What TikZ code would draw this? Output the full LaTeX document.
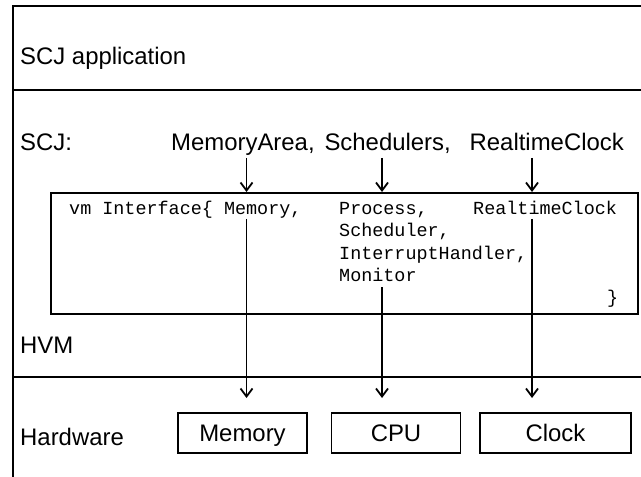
\documentclass[tikz,border=0pt]{standalone}
\usepackage{fontspec}
\setmainfont{Liberation Sans}
\newfontfamily\codefont{Liberation Mono}
\usetikzlibrary{arrows.meta}
\tikzset{
  frame/.style={line width=2.2bp},
  lbl/.style={inner sep=0pt, anchor=base west, font=\fontsize{24}{28}\selectfont},
  code/.style={inner sep=0pt, anchor=base west, font=\codefont\fontsize{18.5}{21}\selectfont},
  hwbox/.style={draw, line width=1.8bp, minimum width=129bp, minimum height=40bp, inner sep=0pt,
    text height=17bp, text depth=0pt, font=\fontsize{24}{28}\selectfont},
  vmbox/.style={draw, line width=2bp},
  arr/.style={line width=1.8bp, -{Straight Barb[length=8bp,width=12bp,line width=1.8bp]}},
}
\begin{document}
\begin{tikzpicture}[x=1bp,y=-1bp]
\useasboundingbox (0,0) rectangle (641,477);
% frame lines
\draw[frame] (13,477) -- (13,6) -- (641,6);
\draw[frame] (13,90) -- (641,90);
\draw[frame] (13,377) -- (641,377);
% layer labels
\node[lbl] (app) at (20,65) {SCJ application};
\node[lbl] (scj) at (20,151) {SCJ:};
\node[lbl] (hvm) at (20,353) {HVM};
\node[lbl] (hw) at (20,445) {Hardware};
% SCJ items
\node[lbl] (ma) at (171,151) {MemoryArea,};
\node[lbl, anchor=base east] (sch) at (451,151) {Schedulers,};
\node[lbl, anchor=base east] (rtc) at (624,151) {RealtimeClock};
% vm interface box
\node[vmbox, minimum width=587bp, minimum height=121bp, anchor=north west, inner sep=0pt] (vm) at (50,192) {};
\node[code] (vmi) at (69,215) {vm Interface\{ Memory,};
\node[code] (p1) at (339,215) {Process,};
\node[code] (p2) at (339,237) {Scheduler,};
\node[code] (p3) at (339,259) {InterruptHandler,};
\node[code] (p4) at (339,281) {Monitor};
\node[code] (rc) at (473,215) {RealtimeClock};
\node[code] (cb) at (607,303) {\}};
% hardware boxes
\node[hwbox] (mem) at (242.5,433) {Memory};
\node[hwbox] (cpu) at (396,433) {CPU};
\node[hwbox, minimum width=151bp] (clk) at (555.5,433) {Clock};
% arrows
\coordinate (a1) at (246.5,158);
\coordinate (a2) at (382,158);
\coordinate (a3) at (532,158);
\draw[arr] (a1) -- (a1 |- vm.north);
\draw[arr] (a2) -- (a2 |- vm.north);
\draw[arr] (a3) -- (a3 |- vm.north);
\coordinate (b1) at (246.5,219);
\coordinate (b2) at (382,287);
\coordinate (b3) at (532,219);
\coordinate (t1) at (246.5,398);
\coordinate (t2) at (382,398);
\coordinate (t3) at (532,398);
\draw[arr] (b1) -- (t1);
\draw[arr] (b2) -- (t2);
\draw[arr] (b3) -- (t3);
\end{tikzpicture}
\end{document}
